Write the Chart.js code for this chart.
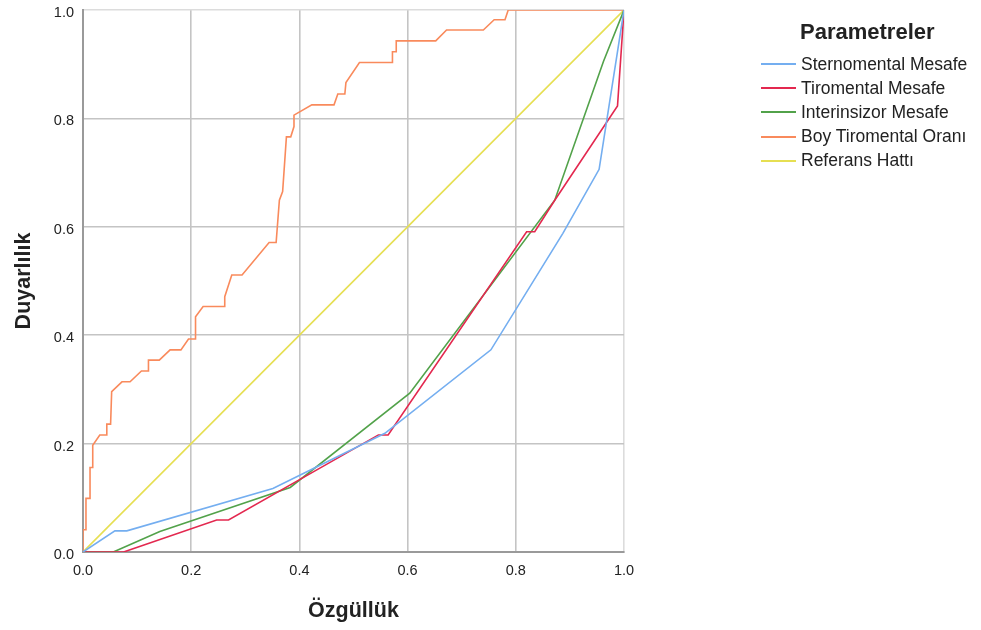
<!DOCTYPE html>
<html>
<head>
<meta charset="utf-8">
<script src="https://cdn.jsdelivr.net/npm/chart.js@4.4.1/dist/chart.umd.min.js"></script>
<style>
  html, body { margin: 0; padding: 0; background: #fff; }
  #wrap { position: relative; width: 981px; height: 630px; }
  #legend { position: absolute; left: 761px; top: 19px; font-family: "Liberation Sans", Arial, sans-serif; color: #222; white-space: nowrap; }
  #legend .ttl { font-weight: bold; font-size: 22px; margin-left: 39px; margin-bottom: 7px; }
  #legend .row { display: flex; align-items: center; height: 24.2px; font-size: 17.5px; }
  #legend .sw { width: 35px; height: 2px; margin-right: 5px; }
</style>
</head>
<body>
<div id="wrap">
  <canvas id="roc" width="981" height="630"></canvas>
  <div id="legend"></div>
</div>
<script>
// ROC eğrileri
var seriesNames = ["Sternomental Mesafe", "Tiromental Mesafe", "Interinsizor Mesafe", "Boy Tiromental Oranı", "Referans Hattı"];
var seriesColors = ["#74aef0", "#e3284f", "#52a24a", "#f98a5c", "#e6df52"];

var sternoX = [0, 0.059, 0.081, 0.351, 0.558, 0.754, 0.887, 0.954, 1];
var sternoY = [0, 0.039, 0.039, 0.117, 0.219, 0.373, 0.588, 0.706, 1];

var tiroX = [0, 0.075, 0.247, 0.269, 0.546, 0.564, 0.820, 0.835, 0.872, 0.988, 1];
var tiroY = [0, 0, 0.059, 0.059, 0.216, 0.216, 0.591, 0.591, 0.649, 0.823, 1];

var interX = [0, 0.056, 0.142, 0.383, 0.604, 0.872, 0.962, 1];
var interY = [0, 0, 0.038, 0.119, 0.293, 0.649, 0.905, 1];

var boyX = [0, 0, 0.0055, 0.0055, 0.013, 0.013, 0.018, 0.018, 0.031, 0.044, 0.044, 0.051, 0.053, 0.072, 0.087, 0.108, 0.121, 0.121, 0.141, 0.161, 0.181, 0.195, 0.208, 0.208, 0.222, 0.261, 0.262, 0.275, 0.294, 0.344, 0.357, 0.363, 0.369, 0.376, 0.384, 0.39, 0.39, 0.423, 0.464, 0.471, 0.484, 0.486, 0.511, 0.572, 0.572, 0.579, 0.579, 0.652, 0.672, 0.74, 0.76, 0.78, 0.786, 1];
var boyY = [0, 0.041, 0.041, 0.099, 0.099, 0.156, 0.156, 0.197, 0.216, 0.216, 0.236, 0.236, 0.296, 0.314, 0.314, 0.334, 0.334, 0.354, 0.354, 0.373, 0.373, 0.393, 0.393, 0.434, 0.453, 0.453, 0.471, 0.511, 0.511, 0.571, 0.571, 0.649, 0.665, 0.766, 0.766, 0.785, 0.806, 0.825, 0.825, 0.845, 0.845, 0.866, 0.903, 0.903, 0.923, 0.923, 0.943, 0.943, 0.963, 0.963, 0.982, 0.982, 1, 1];

var refX = [0, 1];
var refY = [0, 1];

var tickValues = [0, 0.2, 0.4, 0.6, 0.8, 1.0];

function pts(xs, ys) {
  var out = [];
  for (var i = 0; i < xs.length; i++) out.push({x: xs[i], y: ys[i]});
  return out;
}

var allX = [sternoX, tiroX, interX, boyX, refX];
var allY = [sternoY, tiroY, interY, boyY, refY];

var datasets = [];
for (var i = 0; i < seriesNames.length; i++) {
  datasets.push({
    label: seriesNames[i],
    data: pts(allX[i], allY[i]),
    borderColor: seriesColors[i],
    borderWidth: 1.6,
    showLine: true,
    pointRadius: 0,
    tension: 0,
    fill: false
  });
}

// legend html
var lg = document.getElementById("legend");
var h = '<div class="ttl">Parametreler</div>';
for (var j = 0; j < seriesNames.length; j++) {
  h += '<div class="row"><div class="sw" style="background:' + seriesColors[j] + '"></div>' + seriesNames[j] + '</div>';
}
lg.innerHTML = h;

var fontFam = '"Liberation Sans", Arial, sans-serif';
function gridCol(c) { return c.tick && c.tick.value === 1 ? "#dcdcdc" : "#c4c4c4"; }
function fmt(v) { return Number(v).toFixed(1); }

new Chart(document.getElementById("roc"), {
  type: "scatter",
  data: { datasets: datasets },
  options: {
    responsive: false,
    animation: false,
    layout: { padding: { left: 0, top: 10, right: 357, bottom: 0 } },
    plugins: { legend: { display: false }, tooltip: { enabled: false } },
    scales: {
      x: {
        type: "linear", min: 0, max: 1,
        afterFit: function (s) { s.height = 78; s.paddingLeft = 0; s.paddingRight = 0; },
        afterBuildTicks: function (s) { s.ticks = tickValues.map(function (v) { return {value: v}; }); },
        ticks: { color: "#222", font: { family: fontFam, size: 14.5 }, padding: 10, callback: fmt },
        grid: { color: gridCol, lineWidth: 1.6, drawTicks: false },
        border: { color: "#9a9a9a", width: 2 },
        title: { display: true, text: "Özgüllük", color: "#222", font: { family: fontFam, size: 21.5, weight: "bold" }, padding: { top: 0, bottom: 6 } }
      },
      y: {
        type: "linear", min: 0, max: 1,
        afterFit: function (s) { s.width = 83; s.paddingTop = 0; s.paddingBottom = 0; },
        afterBuildTicks: function (s) { s.ticks = tickValues.map(function (v) { return {value: v}; }); },
        ticks: { color: "#222", font: { family: fontFam, size: 14.5 }, padding: 9, labelOffset: 3, callback: fmt },
        grid: { color: gridCol, lineWidth: 1.6, drawTicks: false },
        border: { color: "#9a9a9a", width: 2 },
        title: { display: true, text: "Duyarlılık", color: "#222", font: { family: fontFam, size: 21.5, weight: "bold" }, padding: { top: 11, bottom: 0 } }
      }
    }
  }
});
</script>
</body>
</html>
